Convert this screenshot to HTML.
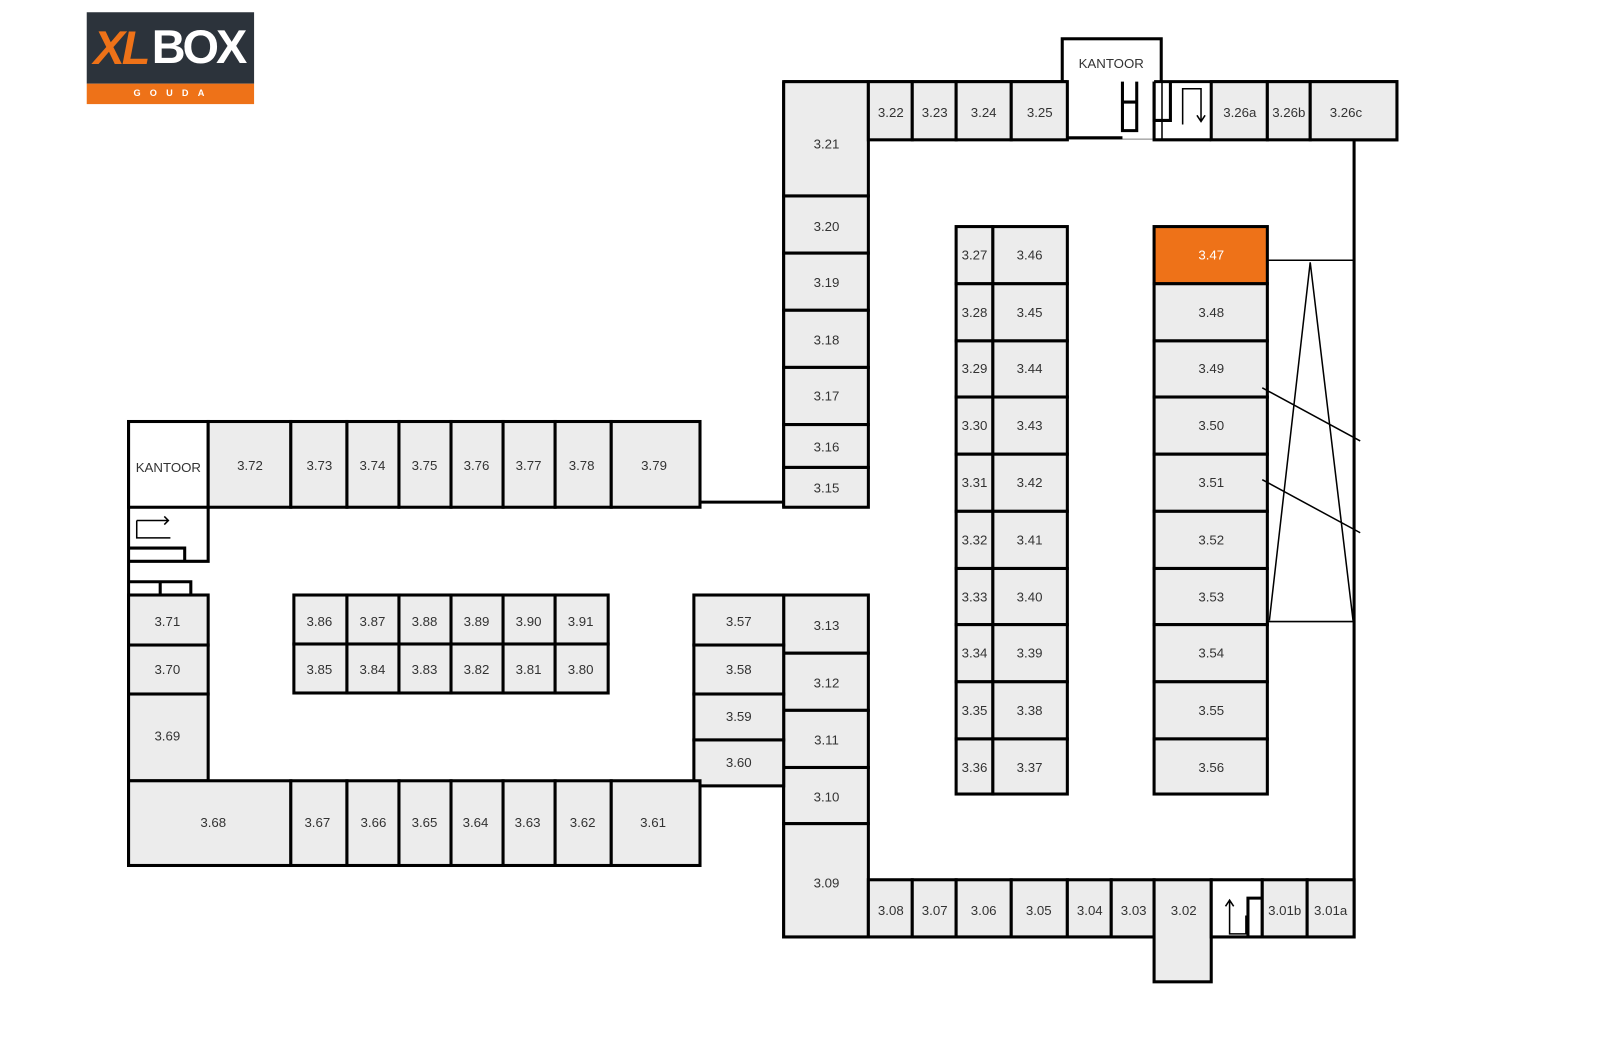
<!DOCTYPE html>
<html><head><meta charset="utf-8"><style>
html,body{margin:0;padding:0;background:#fff;width:1600px;height:1040px;overflow:hidden}
svg{display:block}
text{font-family:"Liberation Sans",Arial,sans-serif;font-size:13px;fill:#333;text-anchor:middle;dominant-baseline:central}
.b{fill:#ececec;stroke:#000;stroke-width:3}
.w{fill:#fff;stroke:#000;stroke-width:3}
.l{stroke:#000;stroke-width:3;fill:none}
.t{stroke:#000;stroke-width:1.5;fill:none}
</style></head><body>
<svg width="1600" height="1040" viewBox="0 0 1568 1019" preserveAspectRatio="none" xmlns="http://www.w3.org/2000/svg">
<!-- logo -->
<rect x="85" y="12" width="164" height="70" fill="#2c333b"/>
<rect x="85" y="82" width="164" height="20" fill="#ee7218"/>
<text x="118" y="47" style="font-size:46px;font-weight:bold;fill:#ee7218;font-style:italic;letter-spacing:-3px">XL</text>
<text x="194" y="46" style="font-size:46px;font-weight:bold;fill:#fff;letter-spacing:-3px">BOX</text>
<text x="170" y="91" style="font-size:9px;font-weight:bold;fill:#fff;letter-spacing:9px">GOUDA</text>

<!-- right building walls -->
<path class="l" d="M768 80 V497 M768 583 V918 H1327 V137"/>
<rect class="w" x="1041" y="38" width="97" height="97"/>
<text x="1089" y="62">KANTOOR</text>
<rect x="1046" y="80" width="92" height="56" fill="#fff"/>
<path class="l" d="M1046 135 H1100 M1100 80 V128 H1114 V80 M1100 100 H1114 M768 80 H1046 M1131 80 H1369 V137 H1327 M1131 80 V137 H1187"/>
<path class="l" d="M1131 80 V118 H1147 V80"/>
<path class="t" d="M1159 122 V87 H1177 V119 M1173 113 L1177 119 L1181 113"/>
<rect class="b" x="768" y="80" width="83" height="112"/><text x="810" y="141">3.21</text>
<rect class="b" x="768" y="192" width="83" height="56"/><text x="810" y="222">3.20</text>
<rect class="b" x="768" y="248" width="83" height="56"/><text x="810" y="277">3.19</text>
<rect class="b" x="768" y="304" width="83" height="56"/><text x="810" y="333">3.18</text>
<rect class="b" x="768" y="360" width="83" height="56"/><text x="810" y="388">3.17</text>
<rect class="b" x="768" y="416" width="83" height="42"/><text x="810" y="438">3.16</text>
<rect class="b" x="768" y="458" width="83" height="39"/><text x="810" y="478">3.15</text>
<rect class="b" x="851" y="80" width="43" height="57"/><text x="873" y="110">3.22</text>
<rect class="b" x="894" y="80" width="43" height="57"/><text x="916" y="110">3.23</text>
<rect class="b" x="937" y="80" width="54" height="57"/><text x="964" y="110">3.24</text>
<rect class="b" x="991" y="80" width="55" height="57"/><text x="1019" y="110">3.25</text>
<rect class="b" x="1187" y="80" width="55" height="57"/><text x="1215" y="110">3.26a</text>
<rect class="b" x="1242" y="80" width="42" height="57"/><text x="1263" y="110">3.26b</text>
<rect class="b" x="1284" y="80" width="85" height="57"/><text x="1319" y="110">3.26c</text>

<!-- middle columns -->
<g>
<rect class="b" x="937" y="222" width="36" height="56"/><text x="955" y="250">3.27</text>
<rect class="b" x="973" y="222" width="73" height="56"/><text x="1009" y="250">3.46</text>
<rect class="b" x="937" y="278" width="36" height="56"/><text x="955" y="306">3.28</text>
<rect class="b" x="973" y="278" width="73" height="56"/><text x="1009" y="306">3.45</text>
<rect class="b" x="937" y="334" width="36" height="55"/><text x="955" y="361">3.29</text>
<rect class="b" x="973" y="334" width="73" height="55"/><text x="1009" y="361">3.44</text>
<rect class="b" x="937" y="389" width="36" height="56"/><text x="955" y="417">3.30</text>
<rect class="b" x="973" y="389" width="73" height="56"/><text x="1009" y="417">3.43</text>
<rect class="b" x="937" y="445" width="36" height="56"/><text x="955" y="473">3.31</text>
<rect class="b" x="973" y="445" width="73" height="56"/><text x="1009" y="473">3.42</text>
<rect class="b" x="937" y="501" width="36" height="56"/><text x="955" y="529">3.32</text>
<rect class="b" x="973" y="501" width="73" height="56"/><text x="1009" y="529">3.41</text>
<rect class="b" x="937" y="557" width="36" height="55"/><text x="955" y="585">3.33</text>
<rect class="b" x="973" y="557" width="73" height="55"/><text x="1009" y="585">3.40</text>
<rect class="b" x="937" y="612" width="36" height="56"/><text x="955" y="640">3.34</text>
<rect class="b" x="973" y="612" width="73" height="56"/><text x="1009" y="640">3.39</text>
<rect class="b" x="937" y="668" width="36" height="56"/><text x="955" y="696">3.35</text>
<rect class="b" x="973" y="668" width="73" height="56"/><text x="1009" y="696">3.38</text>
<rect class="b" x="937" y="724" width="36" height="54"/><text x="955" y="752">3.36</text>
<rect class="b" x="973" y="724" width="73" height="54"/><text x="1009" y="752">3.37</text>
</g>
<rect x="1131" y="222" width="111" height="56" fill="#ee7218" stroke="#000" stroke-width="3"/><text x="1187" y="250" style="fill:#fff">3.47</text>
<rect class="b" x="1131" y="278" width="111" height="56"/><text x="1187" y="306">3.48</text>
<rect class="b" x="1131" y="334" width="111" height="55"/><text x="1187" y="361">3.49</text>
<rect class="b" x="1131" y="389" width="111" height="56"/><text x="1187" y="417">3.50</text>
<rect class="b" x="1131" y="445" width="111" height="56"/><text x="1187" y="473">3.51</text>
<rect class="b" x="1131" y="501" width="111" height="56"/><text x="1187" y="529">3.52</text>
<rect class="b" x="1131" y="557" width="111" height="55"/><text x="1187" y="585">3.53</text>
<rect class="b" x="1131" y="612" width="111" height="56"/><text x="1187" y="640">3.54</text>
<rect class="b" x="1131" y="668" width="111" height="56"/><text x="1187" y="696">3.55</text>
<rect class="b" x="1131" y="724" width="111" height="54"/><text x="1187" y="752">3.56</text>
<path class="t" d="M1242 255 H1327 M1242 609 H1327 M1284 257 L1244 608 M1284 257 L1326 608 M1237 380 L1333 432 M1237 470 L1333 522"/>

<!-- lower right -->
<rect class="b" x="768" y="583" width="83" height="57"/><text x="810" y="613">3.13</text>
<rect class="b" x="768" y="640" width="83" height="56"/><text x="810" y="669">3.12</text>
<rect class="b" x="768" y="696" width="83" height="56"/><text x="810" y="725">3.11</text>
<rect class="b" x="768" y="752" width="83" height="55"/><text x="810" y="781">3.10</text>
<rect class="b" x="768" y="807" width="83" height="111"/><text x="810" y="865">3.09</text>
<rect class="b" x="680" y="583" width="88" height="49"/><text x="724" y="609">3.57</text>
<rect class="b" x="680" y="632" width="88" height="48"/><text x="724" y="656">3.58</text>
<rect class="b" x="680" y="680" width="88" height="45"/><text x="724" y="702">3.59</text>
<rect class="b" x="680" y="725" width="88" height="45"/><text x="724" y="747">3.60</text>
<rect class="b" x="851" y="862" width="43" height="56"/><text x="873" y="892">3.08</text>
<rect class="b" x="894" y="862" width="43" height="56"/><text x="916" y="892">3.07</text>
<rect class="b" x="937" y="862" width="54" height="56"/><text x="964" y="892">3.06</text>
<rect class="b" x="991" y="862" width="55" height="56"/><text x="1018" y="892">3.05</text>
<rect class="b" x="1046" y="862" width="43" height="56"/><text x="1068" y="892">3.04</text>
<rect class="b" x="1089" y="862" width="42" height="56"/><text x="1111" y="892">3.03</text>
<rect class="b" x="1131" y="862" width="56" height="100"/><text x="1160" y="892">3.02</text>
<rect class="w" x="1187" y="862" width="50" height="56"/>
<path class="l" d="M1223 918 V880 H1237"/>
<path class="t" d="M1221 897 V915 H1205 V882 M1201 888 L1205 882 L1209 888"/>
<rect class="b" x="1237" y="862" width="44" height="56"/><text x="1259" y="892">3.01b</text>
<rect class="b" x="1281" y="862" width="46" height="56"/><text x="1304" y="892">3.01a</text>
<path class="l" d="M686 492 H768"/>

<!-- left building -->
<path class="l" d="M686 413 H126 V848 H686"/>
<rect class="w" x="126" y="413" width="78" height="84"/><text x="165" y="458">KANTOOR</text>
<rect class="b" x="204" y="413" width="81" height="84"/><text x="245" y="456">3.72</text>
<rect class="b" x="285" y="413" width="55" height="84"/><text x="313" y="456">3.73</text>
<rect class="b" x="340" y="413" width="51" height="84"/><text x="365" y="456">3.74</text>
<rect class="b" x="391" y="413" width="51" height="84"/><text x="416" y="456">3.75</text>
<rect class="b" x="442" y="413" width="51" height="84"/><text x="467" y="456">3.76</text>
<rect class="b" x="493" y="413" width="51" height="84"/><text x="518" y="456">3.77</text>
<rect class="b" x="544" y="413" width="55" height="84"/><text x="570" y="456">3.78</text>
<rect class="b" x="599" y="413" width="87" height="84"/><text x="641" y="456">3.79</text>
<path class="l" d="M204 497 V550 H126 M126 537 H181 V550 M126 570 H187 V583 M157 570 V583"/>
<path class="t" d="M134 510 V527 H167 M134 510 H165 M161 506 L165 510 L161 514"/>
<rect class="b" x="126" y="583" width="78" height="49"/><text x="164" y="609">3.71</text>
<rect class="b" x="126" y="632" width="78" height="48"/><text x="164" y="656">3.70</text>
<rect class="b" x="126" y="680" width="78" height="85"/><text x="164" y="721">3.69</text>
<rect class="b" x="126" y="765" width="159" height="83"/><text x="209" y="806">3.68</text>
<rect class="b" x="285" y="765" width="55" height="83"/><text x="311" y="806">3.67</text>
<rect class="b" x="340" y="765" width="51" height="83"/><text x="366" y="806">3.66</text>
<rect class="b" x="391" y="765" width="51" height="83"/><text x="416" y="806">3.65</text>
<rect class="b" x="442" y="765" width="51" height="83"/><text x="466" y="806">3.64</text>
<rect class="b" x="493" y="765" width="51" height="83"/><text x="517" y="806">3.63</text>
<rect class="b" x="544" y="765" width="55" height="83"/><text x="571" y="806">3.62</text>
<rect class="b" x="599" y="765" width="87" height="83"/><text x="640" y="806">3.61</text>
<g>
<rect class="b" x="288" y="583" width="52" height="48"/><text x="313" y="609">3.86</text>
<rect class="b" x="340" y="583" width="51" height="48"/><text x="365" y="609">3.87</text>
<rect class="b" x="391" y="583" width="51" height="48"/><text x="416" y="609">3.88</text>
<rect class="b" x="442" y="583" width="51" height="48"/><text x="467" y="609">3.89</text>
<rect class="b" x="493" y="583" width="51" height="48"/><text x="518" y="609">3.90</text>
<rect class="b" x="544" y="583" width="52" height="48"/><text x="569" y="609">3.91</text>
<rect class="b" x="288" y="631" width="52" height="48"/><text x="313" y="656">3.85</text>
<rect class="b" x="340" y="631" width="51" height="48"/><text x="365" y="656">3.84</text>
<rect class="b" x="391" y="631" width="51" height="48"/><text x="416" y="656">3.83</text>
<rect class="b" x="442" y="631" width="51" height="48"/><text x="467" y="656">3.82</text>
<rect class="b" x="493" y="631" width="51" height="48"/><text x="518" y="656">3.81</text>
<rect class="b" x="544" y="631" width="52" height="48"/><text x="569" y="656">3.80</text>
</g>
</svg>
</body></html>
